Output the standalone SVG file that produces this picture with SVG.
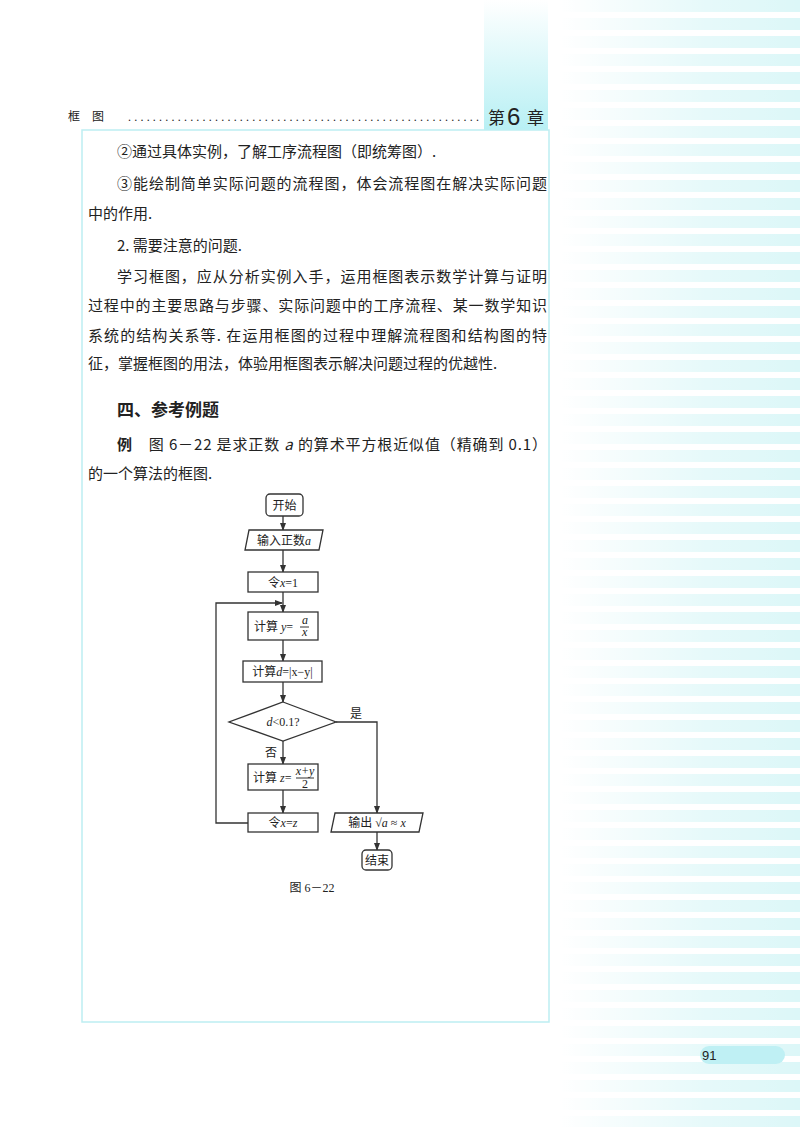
<svg xmlns="http://www.w3.org/2000/svg" width="800" height="1127" viewBox="0 0 800 1127">
<defs>
<style>
.t{font-family:"Noto Sans CJK SC","Liberation Serif",serif;font-size:15px;fill:#222}
.f{font-family:"Liberation Serif","Noto Sans CJK SC",serif;font-size:12px;fill:#222}
.b{fill:#fff;stroke:#333;stroke-width:1.3}
.c{fill:none;stroke:#333;stroke-width:1.3}
</style>
<marker id="a" markerWidth="8" markerHeight="8" refX="7" refY="4" orient="auto" markerUnits="userSpaceOnUse"><path d="M0,1 L8,4 L0,7 Z" fill="#333"/></marker>
<pattern id="st" width="10" height="18" patternUnits="userSpaceOnUse"><rect width="10" height="12" fill="#dcf7f8"/></pattern>
<linearGradient id="fd" x1="0" x2="1" y1="0" y2="0"><stop offset="0" stop-color="#fff" stop-opacity="1"/><stop offset="0.6" stop-color="#fff" stop-opacity="0.3"/><stop offset="1" stop-color="#fff" stop-opacity="0"/></linearGradient>
<linearGradient id="tab" x1="0" x2="0" y1="0" y2="1"><stop offset="0" stop-color="#fff"/><stop offset="1" stop-color="#b8f0f4"/></linearGradient>
</defs>
<rect width="800" height="1127" fill="#fff"/>
<rect x="560" y="0" width="240" height="1127" fill="url(#st)"/>
<rect x="560" y="0" width="240" height="1127" fill="url(#fd)"/>
<rect x="484" y="0" width="64" height="130" fill="url(#tab)"/>
<text x="68" y="121" class="f" fill="#555">框　图</text>
<text x="128" y="121" class="f" style="letter-spacing:1px" textLength="352">.........................................................</text>
<text x="488" y="124" class="t" style="font-size:17px">第</text>
<text x="507" y="125" style="font-family:'Liberation Sans',sans-serif;font-size:24px" fill="#222">6</text>
<text x="527" y="124" class="t" style="font-size:17px">章</text>
<rect x="82" y="130" width="467" height="892" fill="none" stroke="#bdeef2" stroke-width="1.5"/>
<g id="text">
<text x="117" y="157" class="t">②通过具体实例，了解工序流程图（即统筹图）.</text>
<text x="117" y="189" class="t" textLength="430">③能绘制简单实际问题的流程图，体会流程图在解决实际问题</text>
<text x="88" y="219" class="t">中的作用.</text>
<text x="117" y="251" class="t">2. 需要注意的问题.</text>
<text x="117" y="282" class="t" textLength="430">学习框图，应从分析实例入手，运用框图表示数学计算与证明</text>
<text x="88" y="311" class="t" textLength="459">过程中的主要思路与步骤、实际问题中的工序流程、某一数学知识</text>
<text x="88" y="341" class="t" textLength="459">系统的结构关系等. 在运用框图的过程中理解流程图和结构图的特</text>
<text x="88" y="369" class="t">征，掌握框图的用法，体验用框图表示解决问题过程的优越性.</text>
<text x="117" y="416" class="t" style="font-size:17px;font-weight:bold">四、参考例题</text>
<text x="117" y="450" class="t" textLength="430"><tspan font-weight="bold">例</tspan>　图 6－22 是求正数 <tspan font-style="italic">a</tspan> 的算术平方根近似值（精确到 0.1）</text>
<text x="88" y="479" class="t">的一个算法的框图.</text>
</g>
<g id="connectors" class="c">
<line x1="283" y1="516" x2="283" y2="530" marker-end="url(#a)"/>
<line x1="283" y1="550" x2="283" y2="572" marker-end="url(#a)"/>
<line x1="283" y1="592" x2="283" y2="612" marker-end="url(#a)"/>
<line x1="283" y1="640" x2="283" y2="661" marker-end="url(#a)"/>
<line x1="283" y1="682" x2="283" y2="702" marker-end="url(#a)"/>
<line x1="283" y1="741" x2="283" y2="764" marker-end="url(#a)"/>
<line x1="283" y1="790" x2="283" y2="813" marker-end="url(#a)"/>
<polyline points="248,823 216,823 216,603 282,603" marker-end="url(#a)"/>
<polyline points="336,722 377,722 377,813" marker-end="url(#a)"/>
<line x1="377" y1="832" x2="377" y2="850" marker-end="url(#a)"/>
</g>
<g id="start"><rect x="266" y="494" width="37" height="22" rx="4" class="b"/><text x="284.5" y="510" class="f" text-anchor="middle">开始</text></g>
<g id="input"><polygon points="249,530 323,530 319,550 245,550" class="b"/><text x="284" y="545" class="f" text-anchor="middle">输入正数<tspan font-style="italic">a</tspan></text></g>
<g id="init"><rect x="248" y="572" width="70" height="20" class="b"/><text x="283" y="587" class="f" text-anchor="middle">令<tspan font-style="italic">x</tspan>=1</text></g>
<g id="cy"><rect x="248" y="612" width="70" height="28" class="b"/><text x="254" y="631" class="f">计算  <tspan font-style="italic">y</tspan>=</text><text x="302" y="624" class="f" font-size="10" font-style="italic">a</text><line x1="300" y1="627" x2="309" y2="627" stroke="#333"/><text x="302" y="636" class="f" font-size="10" font-style="italic">x</text></g>
<g id="cd"><rect x="243" y="661" width="79" height="21" class="b"/><text x="282.5" y="676" class="f" text-anchor="middle">计算<tspan font-style="italic">d</tspan>=|x−y|</text></g>
<g id="dec"><polygon points="283,702 336,722 283,741 229,722" class="b"/><text x="283" y="726" class="f" text-anchor="middle"><tspan font-style="italic">d</tspan>&lt;0.1?</text></g>
<text x="265" y="757" class="f">否</text>
<text x="350" y="718" class="f">是</text>
<g id="cz"><rect x="248" y="764" width="70" height="26" class="b"/><text x="253" y="782" class="f">计算 <tspan font-style="italic">z</tspan>=</text><text x="305" y="775" class="f" font-size="10" text-anchor="middle" font-style="italic">x+y</text><line x1="296" y1="778" x2="314" y2="778" stroke="#333"/><text x="305" y="788" class="f" font-size="10" text-anchor="middle">2</text></g>
<g id="upd"><rect x="248" y="813" width="70" height="19" class="b"/><text x="283" y="827" class="f" text-anchor="middle">令<tspan font-style="italic">x</tspan>=<tspan font-style="italic">z</tspan></text></g>
<g id="out"><polygon points="335,813 423,813 419,832 331,832" class="b"/><text x="377" y="827" class="f" text-anchor="middle">输出 √<tspan font-style="italic">a</tspan> ≈ <tspan font-style="italic">x</tspan></text></g>
<g id="end"><rect x="362" y="850" width="30" height="20" rx="4" class="b"/><text x="377" y="865" class="f" text-anchor="middle">结束</text></g>
<text x="312" y="892" class="f" text-anchor="middle" fill="#444">图 6－22</text>
<rect x="700" y="1046" width="85" height="18" rx="9" fill="#bff0f4"/>
<text x="702" y="1060" style="font-family:'Liberation Sans',sans-serif;font-size:13px" fill="#222">91</text>
</svg>
